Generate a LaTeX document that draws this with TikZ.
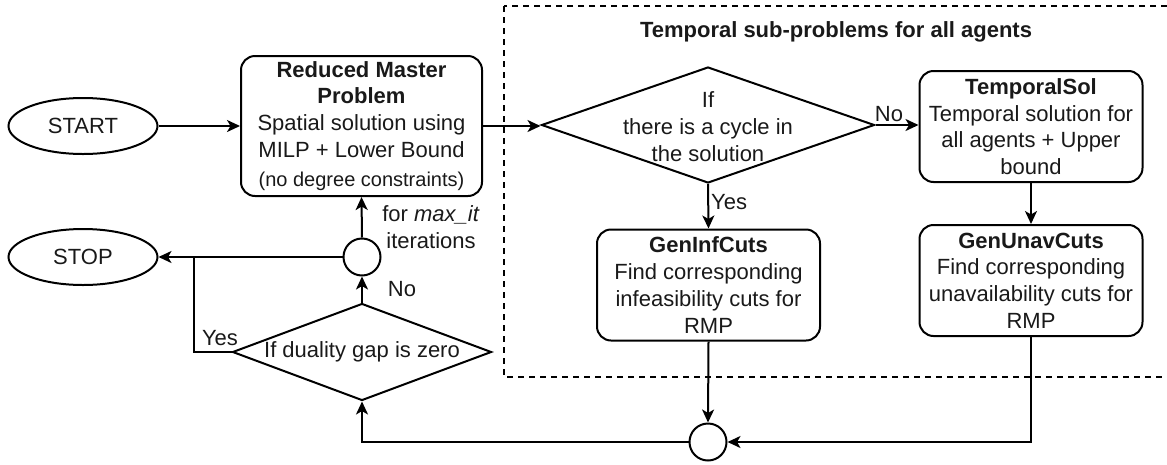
\documentclass[tikz,border=0pt]{standalone}
\usepackage{fontspec}
\setmainfont{Liberation Sans}
\usetikzlibrary{arrows.meta,shapes.geometric}

\tikzset{
  txt/.style={font={\fontsize{22}{26.7}\selectfont}, align=center, inner sep=0pt, text=black!90},
  heading/.style={txt, font={\fontsize{22}{26.7}\selectfont\bfseries}},
  procbox/.style={txt, draw=black, line width=2pt, rounded corners=14pt},
  terminal/.style={txt, draw=black, line width=2pt, ellipse, minimum width=149pt, minimum height=56pt},
  decision/.style={draw=black, line width=2pt, diamond, inner sep=0pt},
  junction/.style={draw=black, line width=2pt, circle, inner sep=0pt, minimum size=37pt},
  flow/.style={line width=2pt, -{Stealth[length=13pt,width=12pt,inset=3.5pt]}},
  link/.style={line width=2pt},
  frame/.style={line width=1.8pt, dash pattern=on 6pt off 5pt}
}

\begin{document}
\begin{tikzpicture}[x=1pt,y=-1pt]
\useasboundingbox (0,0) rectangle (1167,464);
\clip (0,0) rectangle (1167,464);

% frame around the temporal sub-problems
\draw[frame] (504,6) rectangle (1185,377);
\node[heading] (title) at (836,32) {Temporal sub-problems for all agents};

% terminals
\node[terminal] (start) at (83,126) {START};
\node[terminal] (stop) at (83,257) {STOP};

% master problem
\node[procbox, minimum width=241pt, minimum height=140pt] (rmp) at (361.5,126)
  {\textbf{Reduced Master}\\\textbf{Problem}\\Spatial solution using\\MILP + Lower Bound\\[3pt]{\fontsize{20}{23}\selectfont (no degree constraints)}};

% cycle test
\node[decision, minimum width=333pt, minimum height=116pt] (d1) at (708,125) {};
\node[txt] (d1t) at (708,126.5) {If\\there is a cycle in\\the solution};

% sub-problem boxes
\node[procbox, minimum width=223pt, minimum height=111pt] (ts) at (1031,126.5)
  {\textbf{TemporalSol}\\Temporal solution for\\all agents + Upper\\bound};
\node[procbox, minimum width=223pt, minimum height=111pt] (gi) at (708.5,285)
  {\textbf{GenInfCuts}\\Find corresponding\\infeasibility cuts for\\RMP};
\node[procbox, minimum width=223pt, minimum height=111pt] (gu) at (1031,280.5)
  {\textbf{GenUnavCuts}\\Find corresponding\\unavailability cuts for\\RMP};

% merge points
\node[junction] (c1) at (708,442) {};
\node[junction] (c2) at (362,257) {};

% duality gap test
\node[decision, minimum width=259pt, minimum height=97pt] (d2) at (362,352) {};
\node[txt] (d2t) at (d2.center) {If duality gap is zero};

\coordinate (j) at (194,257);

% connectors
\draw[flow] (start.east) -- (rmp.west);
\draw[flow] (rmp.east) -- (rmp.east -| d1.west);
\draw[flow] (d1.east) -- (d1.east -| ts.west);
\draw[flow] (ts.south) -- (gu.north);
\draw[flow] (d1.south) -- (gi.north);
\draw[flow] (gi.south) -- (c1.north);
\draw[flow] (gu.south) |- (c1.east);
\draw[flow] (c1.west) -| (d2.south);
\draw[flow] (d2.north) -- (c2.south);
\draw[flow] (c2.north) -- (rmp.south);
\draw[flow] (c2.west) -- (stop.east);
\draw[link] (d2.west) -| (j);

% connector labels
\node[txt, anchor=west] (yes1) at (711,202) {Yes};
\node[txt] (no1) at (889,114) {No};
\node[txt] (yes2) at (220,338) {Yes};
\node[txt] (no2) at (402,289) {No};
\node[txt] (iter) at (431,227) {for \textit{max\_it}\\iterations};
\end{tikzpicture}
\end{document}
